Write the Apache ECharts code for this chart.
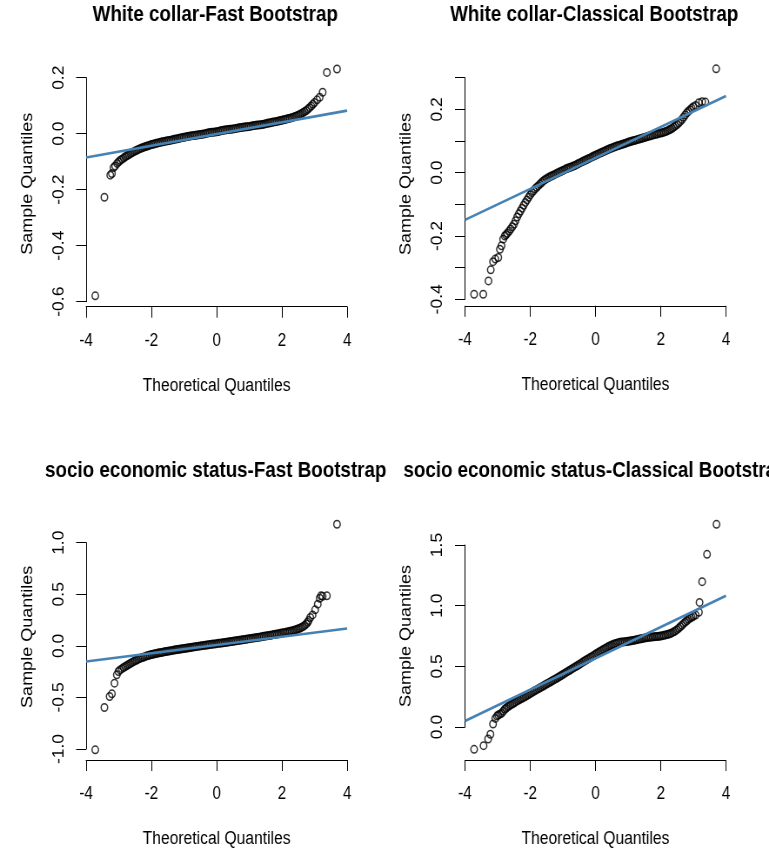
<!DOCTYPE html>
<html><head><meta charset="utf-8">
<script src="https://cdn.jsdelivr.net/npm/echarts@6/dist/echarts.min.js"></script>
<style>
html,body{margin:0;padding:0;background:#fff;overflow:hidden;}
#wrap{width:769px;height:851px;overflow:hidden;position:relative;background:#fff;}
#chart{width:884px;height:851px;transform:scaleX(0.86991);transform-origin:0 0;}
</style></head><body><div id="wrap"><div id="chart"></div></div>
<script>
// ---------- text ----------
const titles = [
  'White collar-Fast Bootstrap',
  'White collar-Classical Bootstrap',
  'socio economic status-Fast Bootstrap',
  'socio economic status-Classical Bootstrap'
];
const xName = 'Theoretical Quantiles';
const yName = 'Sample Quantiles';

// ---------- axes ----------
const xTicks = [-4, -2, 0, 2, 4];
const wcFastYTicks = [-0.6, -0.4, -0.2, 0.0, 0.2];
const wcFastYLabels = [-0.6, -0.4, -0.2, 0.0, 0.2];
const wcClassYTicks = [-0.4, -0.3, -0.2, -0.1, 0.0, 0.1, 0.2, 0.3];
const wcClassYLabels = [-0.4, -0.2, 0.0, 0.2];
const sesFastYTicks = [-1.0, -0.5, 0.0, 0.5, 1.0];
const sesFastYLabels = [-1.0, -0.5, 0.0, 0.5, 1.0];
const sesClassYTicks = [0.0, 0.5, 1.0, 1.5];
const sesClassYLabels = [0.0, 0.5, 1.0, 1.5];

// ---------- data: [theoretical quantile, sample quantile] ----------
const wcFastPts = [
  [-3.72,-0.579],[-3.44,-0.227],[-3.26,-0.148],[-3.21,-0.142],[-3.16,-0.121],[-3.11,-0.115],
  [-3.05,-0.106],[-3.0,-0.100],[-2.95,-0.095],[-2.9,-0.091],[-2.85,-0.087],[-2.8,-0.0825],
  [-2.75,-0.079],[-2.7,-0.075],[-2.65,-0.0715],[-2.6,-0.068],[-2.55,-0.065],[-2.5,-0.062],
  [-2.45,-0.059],[-2.4,-0.056],[-2.3,-0.051],[-2.2,-0.047],[-2.1,-0.043],[-2.0,-0.039],
  [-1.9,-0.036],[-1.8,-0.033],[-1.7,-0.030],[-1.6,-0.0275],[-1.5,-0.025],[-1.4,-0.023],
  [-1.3,-0.020],[-1.2,-0.018],[-1.1,-0.015],[-1.0,-0.013],[-0.9,-0.010],[-0.8,-0.008],
  [-0.7,-0.0065],[-0.6,-0.005],[-0.5,-0.003],[-0.4,-0.001],[-0.3,0.0015],[-0.2,0.004],
  [-0.1,0.0055],[0.0,0.007],[0.1,0.0095],[0.2,0.012],[0.3,0.014],[0.4,0.0155],
  [0.5,0.017],[0.6,0.019],[0.7,0.021],[0.8,0.023],[0.9,0.0245],[1.0,0.026],
  [1.1,0.028],[1.2,0.030],[1.3,0.0315],[1.4,0.033],[1.5,0.0355],[1.6,0.038],
  [1.7,0.0405],[1.8,0.043],[1.9,0.0455],[2.0,0.048],[2.1,0.051],[2.2,0.054],
  [2.3,0.057],[2.4,0.061],[2.45,0.063],[2.5,0.066],[2.55,0.069],[2.6,0.072],
  [2.65,0.0755],[2.7,0.079],[2.75,0.083],[2.8,0.088],[2.85,0.093],[2.9,0.099],
  [2.95,0.105],[3.0,0.111],[3.08,0.121],[3.16,0.130],[3.25,0.148],[3.38,0.219],[3.69,0.231]
];
const wcFastMid = [
  [-2.35,-0.0535],[-2.25,-0.049],[-2.15,-0.045],[-2.05,-0.041],[-1.95,-0.0375],[-1.85,-0.0345],
  [-1.75,-0.0315],[-1.65,-0.029],[-1.55,-0.026],[-1.45,-0.024],[-1.35,-0.0215],[-1.25,-0.019],
  [-1.15,-0.0165],[-1.05,-0.014],[-0.95,-0.0115],[-0.85,-0.009],[-0.75,-0.007],[-0.65,-0.0055],
  [-0.55,-0.004],[-0.45,-0.002],[-0.35,0.0002],[-0.25,0.003],[-0.15,0.005],[-0.05,0.006],
  [0.05,0.008],[0.15,0.011],[0.25,0.013],[0.35,0.015],[0.45,0.016],[0.55,0.018],
  [0.65,0.020],[0.75,0.022],[0.85,0.024],[0.95,0.025],[1.05,0.027],[1.15,0.029],
  [1.25,0.031],[1.35,0.032],[1.45,0.034],[1.55,0.037],[1.65,0.039],[1.75,0.042],
  [1.85,0.044],[1.95,0.047],[2.05,0.0495],[2.15,0.0525],[2.25,0.0555],[2.35,0.059]
];
const wcFastLine = [[-4,-0.085],[4,0.0825]];

const wcClassPts = [
  [-3.72,-0.384],[-3.44,-0.384],[-3.28,-0.342],[-3.21,-0.307],[-3.14,-0.281],[-3.07,-0.273],
  [-2.98,-0.268],[-2.93,-0.242],[-2.88,-0.231],[-2.83,-0.210],[-2.78,-0.200],[-2.74,-0.196],
  [-2.7,-0.191],[-2.65,-0.185],[-2.6,-0.178],[-2.55,-0.171],[-2.5,-0.163],[-2.45,-0.152],
  [-2.4,-0.140],[-2.35,-0.130],[-2.3,-0.121],[-2.25,-0.112],[-2.2,-0.103],[-2.15,-0.094],
  [-2.1,-0.086],[-2.05,-0.078],[-2.0,-0.070],[-1.95,-0.063],[-1.9,-0.057],[-1.85,-0.051],
  [-1.8,-0.046],[-1.75,-0.041],[-1.7,-0.036],[-1.65,-0.031],[-1.6,-0.026],[-1.5,-0.019],
  [-1.4,-0.013],[-1.3,-0.008],[-1.2,-0.003],[-1.1,0.002],[-1.0,0.007],[-0.9,0.012],
  [-0.8,0.0165],[-0.7,0.020],[-0.6,0.0245],[-0.5,0.030],[-0.4,0.035],[-0.3,0.040],
  [-0.2,0.045],[-0.1,0.050],[0.0,0.055],[0.1,0.060],[0.2,0.0645],[0.3,0.069],
  [0.4,0.074],[0.5,0.078],[0.6,0.082],[0.7,0.0855],[0.8,0.089],[0.9,0.092],
  [1.0,0.096],[1.1,0.099],[1.2,0.102],[1.3,0.105],[1.4,0.108],[1.5,0.111],
  [1.6,0.114],[1.7,0.117],[1.8,0.120],[1.9,0.1225],[2.0,0.125],[2.1,0.128],
  [2.2,0.132],[2.3,0.137],[2.4,0.144],[2.45,0.148],[2.5,0.152],[2.55,0.157],
  [2.6,0.162],[2.65,0.168],[2.7,0.175],[2.75,0.182],[2.8,0.189],[2.85,0.194],
  [2.9,0.199],[2.95,0.204],[3.0,0.208],[3.07,0.212],[3.17,0.221],[3.27,0.224],
  [3.37,0.223],[3.70,0.328]
];
const wcClassMid = [
  [-1.55,-0.0225],[-1.45,-0.016],[-1.35,-0.0105],[-1.25,-0.0055],[-1.15,-0.0005],[-1.05,0.0045],
  [-0.95,0.0095],[-0.85,0.014],[-0.75,0.018],[-0.65,0.022],[-0.55,0.027],[-0.45,0.0325],
  [-0.35,0.0375],[-0.25,0.0425],[-0.15,0.0475],[-0.05,0.0525],[0.05,0.0575],[0.15,0.062],
  [0.25,0.067],[0.35,0.0715],[0.45,0.076],[0.55,0.080],[0.65,0.084],[0.75,0.087],
  [0.85,0.0905],[0.95,0.094],[1.05,0.0975],[1.15,0.1005],[1.25,0.1035],[1.35,0.1065],
  [1.45,0.1095],[1.55,0.1125],[1.65,0.1155],[1.75,0.1185],[1.85,0.121],[1.95,0.124],
  [2.05,0.1265],[2.15,0.130],[2.25,0.1345],[2.35,0.140]
];
const wcClassLine = [[-4,-0.149],[4,0.242]];

const sesFastPts = [
  [-3.72,-1.008],[-3.44,-0.598],[-3.28,-0.491],[-3.21,-0.465],[-3.13,-0.362],[-3.06,-0.281],
  [-3.01,-0.249],[-2.96,-0.233],[-2.9,-0.221],[-2.85,-0.210],[-2.8,-0.200],[-2.75,-0.190],
  [-2.7,-0.181],[-2.65,-0.172],[-2.6,-0.162],[-2.55,-0.153],[-2.5,-0.145],[-2.45,-0.137],
  [-2.35,-0.122],[-2.25,-0.110],[-2.15,-0.099],[-2.05,-0.089],[-1.95,-0.081],[-1.85,-0.074],
  [-1.75,-0.067],[-1.65,-0.061],[-1.55,-0.055],[-1.45,-0.049],[-1.35,-0.044],[-1.25,-0.038],
  [-1.15,-0.033],[-1.05,-0.028],[-0.95,-0.023],[-0.85,-0.018],[-0.75,-0.013],[-0.65,-0.008],
  [-0.55,-0.003],[-0.45,0.002],[-0.35,0.006],[-0.25,0.010],[-0.15,0.015],[-0.05,0.019],
  [0.05,0.024],[0.15,0.028],[0.25,0.033],[0.35,0.037],[0.45,0.042],[0.55,0.047],
  [0.65,0.052],[0.75,0.057],[0.85,0.062],[0.95,0.067],[1.05,0.072],[1.15,0.077],
  [1.25,0.082],[1.35,0.087],[1.45,0.092],[1.55,0.097],[1.65,0.103],[1.75,0.109],
  [1.85,0.115],[1.95,0.121],[2.05,0.127],[2.15,0.134],[2.25,0.141],[2.35,0.149],
  [2.45,0.159],[2.5,0.165],[2.55,0.171],[2.6,0.179],[2.65,0.188],[2.7,0.199],
  [2.75,0.213],[2.79,0.229],[2.82,0.245],[2.87,0.275],[2.94,0.300],[3.02,0.349],
  [3.10,0.404],[3.16,0.462],[3.20,0.485],[3.25,0.480],[3.38,0.485],[3.69,1.179]
];
const sesFastMid = [
  [-2.4,-0.129],[-2.3,-0.116],[-2.2,-0.1045],[-2.1,-0.094],[-2.0,-0.085],[-1.9,-0.0775],
  [-1.8,-0.0705],[-1.7,-0.064],[-1.6,-0.058],[-1.5,-0.052],[-1.4,-0.0465],[-1.3,-0.041],
  [-1.2,-0.0355],[-1.1,-0.0305],[-1.0,-0.0255],[-0.9,-0.0205],[-0.8,-0.0155],[-0.7,-0.0105],
  [-0.6,-0.0055],[-0.5,-0.0005],[-0.4,0.004],[-0.3,0.008],[-0.2,0.0125],[-0.1,0.017],
  [0.0,0.0215],[0.1,0.026],[0.2,0.0305],[0.3,0.035],[0.4,0.0395],[0.5,0.0445],
  [0.6,0.0495],[0.7,0.0545],[0.8,0.0595],[0.9,0.0645],[1.0,0.0695],[1.1,0.0745],
  [1.2,0.0795],[1.3,0.0845],[1.4,0.0895],[1.5,0.0945],[1.6,0.100],[1.7,0.106],
  [1.8,0.112],[1.9,0.118],[2.0,0.124],[2.1,0.1305],[2.2,0.1375],[2.3,0.145],[2.4,0.154]
];
const sesFastLine = [[-4,-0.152],[4,0.168]];

const sesClassPts = [
  [-3.72,-0.184],[-3.43,-0.154],[-3.29,-0.099],[-3.22,-0.060],[-3.14,0.025],[-3.07,0.071],
  [-3.02,0.090],[-2.98,0.099],[-2.93,0.106],[-2.88,0.113],[-2.83,0.130],[-2.78,0.146],
  [-2.74,0.155],[-2.7,0.164],[-2.65,0.173],[-2.6,0.182],[-2.55,0.190],[-2.5,0.198],
  [-2.45,0.207],[-2.4,0.215],[-2.3,0.230],[-2.2,0.244],[-2.1,0.259],[-2.0,0.276],
  [-1.9,0.293],[-1.8,0.308],[-1.7,0.323],[-1.6,0.338],[-1.5,0.354],[-1.4,0.369],
  [-1.3,0.385],[-1.2,0.400],[-1.1,0.416],[-1.0,0.433],[-0.9,0.450],[-0.8,0.466],
  [-0.7,0.483],[-0.6,0.499],[-0.5,0.515],[-0.4,0.533],[-0.3,0.550],[-0.2,0.566],
  [-0.1,0.582],[0.0,0.599],[0.1,0.617],[0.2,0.632],[0.3,0.648],[0.4,0.663],
  [0.5,0.676],[0.6,0.687],[0.7,0.695],[0.8,0.700],[0.9,0.703],[1.0,0.707],
  [1.1,0.711],[1.2,0.716],[1.3,0.722],[1.4,0.727],[1.5,0.733],[1.6,0.737],
  [1.7,0.741],[1.8,0.744],[1.9,0.746],[2.0,0.750],[2.1,0.756],[2.2,0.762],
  [2.3,0.771],[2.4,0.784],[2.45,0.792],[2.5,0.802],[2.55,0.813],[2.6,0.826],
  [2.65,0.839],[2.7,0.852],[2.75,0.864],[2.8,0.876],[2.85,0.888],[2.9,0.898],
  [2.95,0.905],[3.0,0.912],[3.07,0.923],[3.17,0.945],[3.19,1.027],[3.27,1.198],
  [3.42,1.423],[3.71,1.670]
];
const sesClassMid = [
  [-2.35,0.2225],[-2.25,0.237],[-2.15,0.2515],[-2.05,0.2675],[-1.95,0.2845],[-1.85,0.3005],
  [-1.75,0.3155],[-1.65,0.3305],[-1.55,0.346],[-1.45,0.3615],[-1.35,0.377],[-1.25,0.3925],
  [-1.15,0.408],[-1.05,0.4245],[-0.95,0.4415],[-0.85,0.458],[-0.75,0.4745],[-0.65,0.491],
  [-0.55,0.507],[-0.45,0.524],[-0.35,0.5415],[-0.25,0.558],[-0.15,0.574],[-0.05,0.5905],
  [0.05,0.608],[0.15,0.6245],[0.25,0.640],[0.35,0.6555],[0.45,0.6695],[0.55,0.6815],
  [0.65,0.691],[0.75,0.6975],[0.85,0.7015],[0.95,0.705],[1.05,0.709],[1.15,0.7135],
  [1.25,0.719],[1.35,0.7245],[1.45,0.730],[1.55,0.735],[1.65,0.739],[1.75,0.7425],
  [1.85,0.745],[1.95,0.748],[2.05,0.753],[2.15,0.759],[2.25,0.7665],[2.35,0.7775]
];
const sesClassLine = [[-4,0.049],[4,1.082]];

// ---------- layout (unscaled px; page is squeezed horizontally like the source) ----------
const panels = [
  {pts: wcFastPts.concat(wcFastMid),   line: wcFastLine,   ticks: wcFastYTicks,   labels: wcFastYLabels,
   left: 99,  top: 77.7,  height: 224,   xOffset: 5,  nameShift: 12, titleX: 247.5, titleTop: 4},
  {pts: wcClassPts.concat(wcClassMid), line: wcClassLine,  ticks: wcClassYTicks,  labels: wcClassYLabels,
   left: 534.5, top: 77.7, height: 221.6, xOffset: 6.5, nameShift: 9, titleX: 683, titleTop: 4},
  {pts: sesFastPts.concat(sesFastMid), line: sesFastLine,  ticks: sesFastYTicks,  labels: sesFastYLabels,
   left: 99,  top: 542.7, height: 206.3, xOffset: 11, nameShift: 18, titleX: 248, titleTop: 460},
  {pts: sesClassPts.concat(sesClassMid), line: sesClassLine, ticks: sesClassYTicks, labels: sesClassYLabels,
   left: 534.5, top: 545, height: 182,   xOffset: 33, nameShift: 0, titleX: 684.5, titleTop: 460}
];
const plotW = 300;
const FONT = "'Liberation Sans', Arial, sans-serif";
const INK = '#000';

const option = {
  animation: false,
  backgroundColor: '#fff',
  title: panels.map((p, i) => ({
    text: titles[i], left: p.titleX, top: p.titleTop, textAlign: 'center',
    padding: 0,
    textStyle: {fontFamily: FONT, fontSize: 21.6, fontWeight: 'bold', color: INK}
  })),
  grid: panels.map(p => ({left: p.left, top: p.top, width: plotW, height: p.height, containLabel: false})),
  xAxis: panels.map((p, i) => ({
    type: 'value', gridIndex: i, min: xTicks[0], max: xTicks[xTicks.length - 1],
    interval: xTicks[1] - xTicks[0], position: 'bottom', offset: p.xOffset,
    name: xName, nameLocation: 'middle', nameGap: 70,
    nameTextStyle: {fontFamily: FONT, fontSize: 18, color: INK},
    axisLine: {show: true, onZero: false, lineStyle: {color: INK, width: 1}},
    axisTick: {show: true, inside: false, length: 11, lineStyle: {color: INK, width: 1}},
    axisLabel: {show: true, margin: 25, fontFamily: FONT, fontSize: 17.5, color: INK,
      showMinLabel: true, showMaxLabel: true},
    splitLine: {show: false}
  })),
  yAxis: panels.map((p, i) => {
    const step = Math.round((p.ticks[1] - p.ticks[0]) * 1e6) / 1e6;
    return {
      type: 'value', gridIndex: i, min: p.ticks[0], max: p.ticks[p.ticks.length - 1],
      interval: step, position: 'left',
      name: yName, nameLocation: 'middle', nameGap: 58,
      nameTextStyle: {fontFamily: FONT, fontSize: 18, color: INK, padding: [0, 0, 0, p.nameShift]},
      axisLine: {show: true, onZero: false, lineStyle: {color: INK, width: 1}},
      axisTick: {show: true, inside: false, length: 11.5, lineStyle: {color: INK, width: 1}},
      axisLabel: {
        show: true, rotate: 90, margin: 22, fontFamily: FONT, fontSize: 17.5, color: INK,
        showMinLabel: true, showMaxLabel: true,
        formatter: v => {
          const val = Math.abs(v) < 1e-9 ? 0 : v;
          return p.labels.some(l => Math.abs(l - val) < 1e-6) ? val.toFixed(1) : '';
        }
      },
      splitLine: {show: false}
    };
  }),
  series: panels.flatMap((p, i) => [
    {
      type: 'scatter', xAxisIndex: i, yAxisIndex: i, data: p.pts, clip: false,
      symbol: 'circle', symbolSize: 7.5, silent: true,
      itemStyle: {color: 'rgba(0,0,0,0)', borderColor: INK, borderWidth: 1.5},
      emphasis: {disabled: true}, z: 2
    },
    {
      type: 'line', xAxisIndex: i, yAxisIndex: i, data: p.line, clip: true,
      symbol: 'none', silent: true,
      lineStyle: {color: '#4682B4', width: 2.6},
      emphasis: {disabled: true}, z: 3
    }
  ])
};

const chart = echarts.init(document.getElementById('chart'), null, {renderer: 'canvas'});
chart.setOption(option);
</script>
</body></html>
